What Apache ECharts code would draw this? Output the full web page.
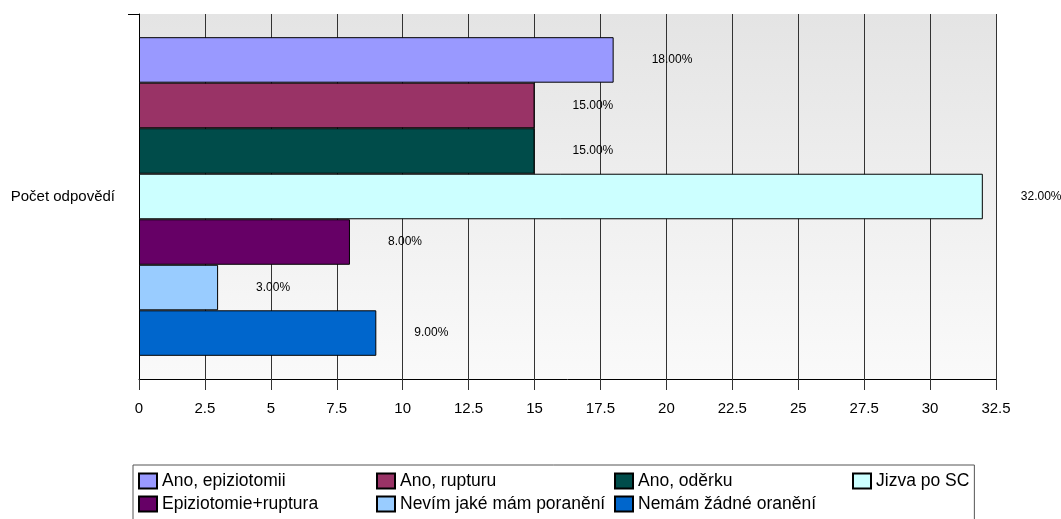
<!DOCTYPE html>
<html>
<head>
<meta charset="utf-8">
<script src="https://cdn.jsdelivr.net/npm/echarts@6/dist/echarts.min.js"></script>
<style>
  html, body { margin: 0; padding: 0; background: #ffffff; }
  #chart { width: 1061px; height: 519px; }
</style>
</head>
<body>
<div id="chart"></div>
<script>
// Single question category, one bar per answer option
const categories = ['Počet odpovědí'];
const answerNames = [
  'Ano, epiziotomii',
  'Ano, rupturu',
  'Ano, oděrku',
  'Jizva po SC',
  'Epiziotomie+ruptura',
  'Nevím jaké mám poranění',
  'Nemám žádné oranění'
];
const answerValues = [18, 15, 15, 32, 8, 3, 9];
const answerColors = ['#9999FF', '#993366', '#004C4A', '#CCFFFF', '#660066', '#99CCFF', '#0066CC'];
const xTicks = { min: 0, max: 32.5, interval: 2.5 };

const FONT = '"Liberation Sans", Arial, sans-serif';
const GRID_LEFT = 139;
const GRID_TOP = 14;
const TICK_LEN = 11;

const series = answerNames.map((name, i) => ({
  name: name,
  type: 'bar',
  data: [answerValues[i]],
  barGap: '0%',
  barCategoryGap: '12.7%',
  itemStyle: { color: answerColors[i], borderColor: '#000000', borderWidth: 1 },
  label: {
    show: true,
    position: 'right',
    distance: 38,
    fontFamily: FONT,
    fontSize: 12,
    color: '#000000',
    formatter: p => p.value.toFixed(2) + '%'
  },
  emphasis: { disabled: true }
}));

// Legend laid out in four aligned columns; the last column keeps its natural width
const legendData = answerNames.map((name, i) => {
  const lastInRow = (i % 4 === 3) || i === answerNames.length - 1;
  return lastInRow ? { name: name } : { name: name, textStyle: { width: 209 } };
});

const chart = echarts.init(document.getElementById('chart'), null, { renderer: 'canvas' });
chart.setOption({
  animation: false,
  backgroundColor: '#ffffff',
  grid: {
    left: GRID_LEFT,
    top: GRID_TOP,
    width: 857,
    height: 365,
    show: true,
    borderWidth: 0,
    backgroundColor: {
      type: 'linear', x: 0, y: 0, x2: 0, y2: 1,
      colorStops: [
        { offset: 0, color: '#E4E4E4' },
        { offset: 1, color: '#FAFAFA' }
      ]
    }
  },
  xAxis: {
    type: 'value',
    min: xTicks.min,
    max: xTicks.max,
    interval: xTicks.interval,
    axisLine: { show: true, lineStyle: { color: '#000000', width: 1 } },
    axisTick: { show: true, length: TICK_LEN, lineStyle: { color: '#333333' } },
    axisLabel: {
      margin: 22,
      fontFamily: FONT,
      fontSize: 15,
      color: '#000000'
    },
    splitLine: { show: true, lineStyle: { color: '#333333', width: 1 } }
  },
  yAxis: {
    type: 'category',
    data: categories,
    axisLine: { show: true, lineStyle: { color: '#000000', width: 1 } },
    axisTick: { show: false },
    axisLabel: {
      margin: 24,
      fontFamily: FONT,
      fontSize: 15,
      color: '#000000'
    },
    splitLine: { show: false }
  },
  // Only the upper boundary tick of the category axis is drawn
  graphic: [{
    type: 'line',
    silent: true,
    shape: { x1: GRID_LEFT - TICK_LEN, y1: GRID_TOP + 0.5, x2: GRID_LEFT, y2: GRID_TOP + 0.5 },
    style: { stroke: '#000000', lineWidth: 1 }
  }],
  legend: {
    left: 133,
    top: 465,
    width: 835,
    orient: 'horizontal',
    icon: 'rect',
    itemWidth: 18,
    itemHeight: 15,
    itemGap: 5,
    padding: [7, 5, 60, 5],
    borderColor: '#555555',
    borderWidth: 1,
    borderRadius: 0,
    selectedMode: false,
    textStyle: { fontFamily: FONT, fontSize: 17.5, lineHeight: 17, color: '#000000' },
    data: legendData
  },
  series: series
});
</script>
</body>
</html>
